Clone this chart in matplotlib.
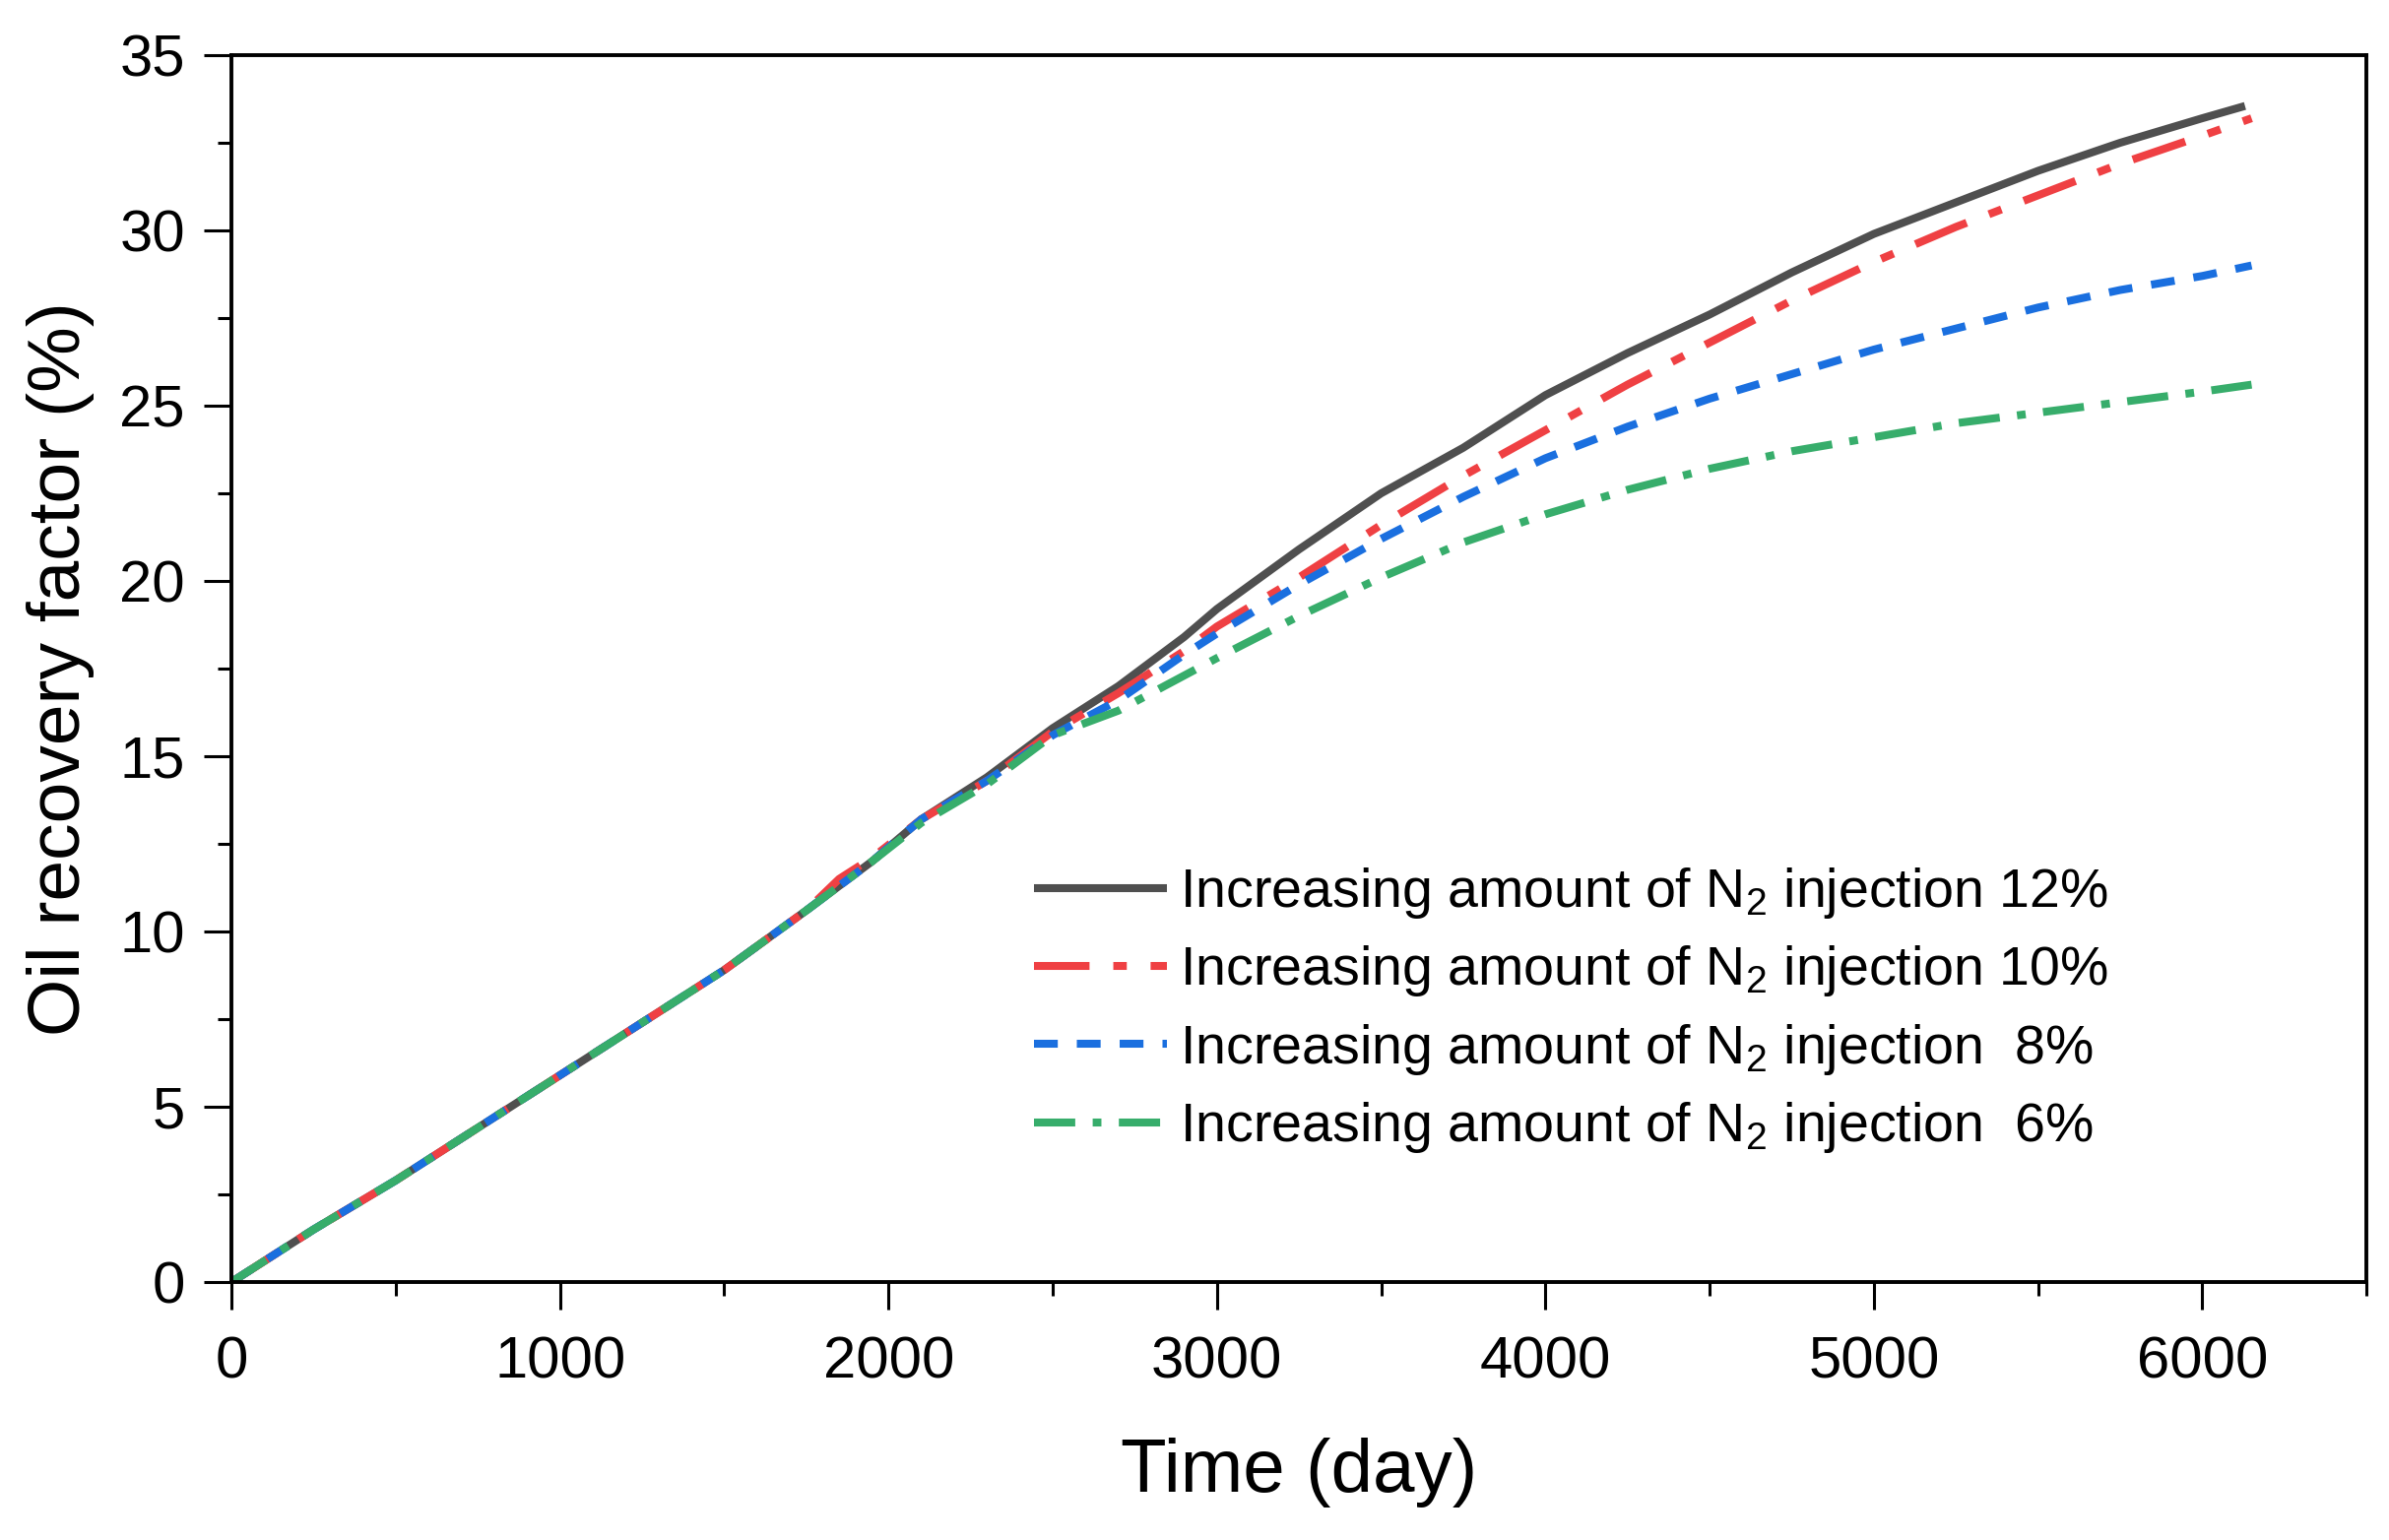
import numpy as np
from matplotlib import pyplot as plt

plt.rcParams['font.family'] = ['Liberation Sans', 'DejaVu Sans']
plt.rcParams['mathtext.fontset'] = 'custom'
plt.rcParams['mathtext.rm'] = 'Liberation Sans'
plt.rcParams['mathtext.default'] = 'regular'

# days
t12 = [0, 250, 500, 750, 1000, 1250, 1500, 1750, 1850, 1950, 2100, 2300, 2500, 2700, 2900,
       3000, 3250, 3500, 3750, 4000, 4250, 4500, 4750, 5000, 5250, 5500, 5750, 6000, 6130]
tOther = [0, 250, 500, 750, 1000, 1250, 1500, 1750, 1850, 1950, 2100, 2300, 2500, 2700, 2900,
          3000, 3250, 3500, 3750, 4000, 4250, 4500, 4750, 5000, 5250, 5500, 5750, 6000, 6150]

# oil recovery factor (%)
rf12 = [0, 1.5, 2.9, 4.4, 5.9, 7.4, 8.9, 10.6, 11.3, 12.0, 13.2, 14.4, 15.8, 17.0, 18.4,
        19.2, 20.9, 22.5, 23.8, 25.3, 26.5, 27.6, 28.8, 29.9, 30.8, 31.7, 32.5, 33.2, 33.55]
rf10 = [0, 1.5, 2.9, 4.4, 5.9, 7.4, 8.9, 10.6, 11.5, 12.1, 13.2, 14.3, 15.7, 16.8, 18.0,
        18.7, 20.1, 21.6, 23.0, 24.3, 25.6, 26.8, 28.0, 29.1, 30.1, 31.0, 31.9, 32.7, 33.2]
rf8 = [0, 1.5, 2.9, 4.4, 5.9, 7.4, 8.9, 10.6, 11.3, 12.0, 13.2, 14.3, 15.6, 16.6, 17.9,
       18.5, 19.9, 21.2, 22.4, 23.5, 24.4, 25.2, 25.9, 26.6, 27.2, 27.8, 28.3, 28.7, 29.0]
rf6 = [0, 1.5, 2.9, 4.4, 5.9, 7.4, 8.9, 10.6, 11.3, 12.0, 13.1, 14.2, 15.6, 16.3, 17.3,
       17.8, 19.0, 20.1, 21.1, 21.9, 22.6, 23.2, 23.7, 24.1, 24.5, 24.8, 25.1, 25.4, 25.6]

labels = ['Increasing amount of N$_2$ injection 12%',
          'Increasing amount of N$_2$ injection 10%',
          'Increasing amount of N$_2$ injection  8%',
          'Increasing amount of N$_2$ injection  6%']

fig = plt.figure(figsize=(24.26, 15.64), dpi=100)
ax = fig.add_axes([0.0969, 0.1675, 0.8937, 0.7967])

lw = 5.8
ax.plot(t12, rf12, color='#4f4f4f', lw=lw, solid_capstyle='butt', label=labels[0])
ax.plot(tOther, rf10, color='#ef4043', lw=lw, dashes=(7, 3, 1.7, 3), dash_capstyle='butt', label=labels[1])
ax.plot(tOther, rf8, color='#1a6fdf', lw=lw, dashes=(3, 2.4), dash_capstyle='butt', label=labels[2])
ax.plot(tOther, rf6, color='#37ad6b', lw=lw, dashes=(5.2, 2.2, 1.1, 2.2), dash_capstyle='butt', label=labels[3])

ax.set_xlim(0, 6500)
ax.set_ylim(0, 35)
ax.set_xticks(np.arange(0, 6001, 1000))
ax.set_xticks(np.arange(500, 6501, 1000), minor=True)
ax.set_yticks(np.arange(0, 36, 5))
ax.set_yticks(np.arange(2.5, 35, 5), minor=True)

for s in ax.spines.values():
    s.set_linewidth(2.8)
ax.tick_params(which='major', direction='out', length=20, width=2.2, labelsize=43)
ax.tick_params(which='minor', direction='out', length=10, width=2.2)
ax.tick_params(axis='x', which='major', pad=19)
ax.tick_params(axis='y', which='major', pad=14)

ax.set_xlabel('Time (day)', fontsize=55)
ax.set_ylabel('Oil recovery factor (%)', fontsize=54)
ax.xaxis.set_label_coords(0.5, -0.127)
ax.yaxis.set_label_coords(-0.064, 0.5)

ax.legend(loc='upper left', bbox_to_anchor=(0.376, 0.3395), frameon=False, fontsize=40,
          handlelength=2.43, handletextpad=0.22, labelspacing=0.42, borderpad=0, borderaxespad=0)

plt.savefig('out.png', dpi=100)
